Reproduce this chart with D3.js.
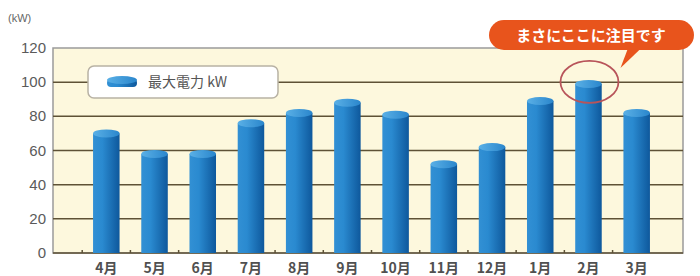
<!DOCTYPE html>
<html>
<head>
<meta charset="utf-8">
<script src="https://cdn.jsdelivr.net/npm/d3@7"></script>
<style>
  body { margin: 0; background: #fff; }
  svg { display: block; font-family: "Noto Sans CJK JP", "DejaVu Sans", sans-serif; }
</style>
</head>
<body>
<svg width="700" height="276"></svg>
<script>
months = ["4月","5月","6月","7月","8月","9月","10月","11月","12月","1月","2月","3月"];
peakKw = [70, 58, 58, 76, 82, 88, 81, 52, 62, 89, 99, 82];
yTicks = [0, 20, 40, 60, 80, 100, 120];
legendLabel = "最大電力 kW";
calloutText = "まさにここに注目です";
highlight = "2月";

width = 700;
height = 276;
plot = {left: 53, right: 683, top: 48, bottom: 253};

svg = d3.select("svg");

x = d3.scaleBand()
    .domain(months)
    .range([81, 662])
    .paddingInner(0.45)
    .paddingOuter(0.25);

y = d3.scaleLinear()
    .domain([0, 120])
    .range([plot.bottom, plot.top]);

defs = svg.append("defs");
grad = defs.append("linearGradient").attr("id", "barGrad");
grad.append("stop").attr("offset", "0%").attr("stop-color", "#3290d4");
grad.append("stop").attr("offset", "35%").attr("stop-color", "#2a8ad0");
grad.append("stop").attr("offset", "100%").attr("stop-color", "#0e589c");
topGrad = defs.append("linearGradient").attr("id", "topGrad");
topGrad.append("stop").attr("offset", "0%").attr("stop-color", "#5ab0e6");
topGrad.append("stop").attr("offset", "100%").attr("stop-color", "#2a86cc");

// plot background
svg.append("rect")
    .attr("x", plot.left).attr("y", plot.top)
    .attr("width", plot.right - plot.left).attr("height", plot.bottom - plot.top)
    .attr("fill", "#fdf8dd")
    .attr("stroke", "#9a9a9a").attr("stroke-width", 1.5);

// grid
svg.append("g")
  .selectAll("line")
  .data(yTicks.filter(d => d > 0 && d < 120))
  .join("line")
    .attr("x1", plot.left).attr("x2", plot.right)
    .attr("y1", d => y(d)).attr("y2", d => y(d))
    .attr("stroke", "#5e5236").attr("stroke-width", 1.5);

// y axis labels
svg.append("g")
    .style("font-family", "Liberation Sans, Arial, sans-serif")
    .style("font-size", "15px")
    .attr("fill", "#5a5a5a")
    .attr("text-anchor", "end")
  .selectAll("text")
  .data(yTicks)
  .join("text")
    .attr("x", 46)
    .attr("y", d => y(d) + 5)
    .text(d => d);

svg.append("text")
    .attr("x", 8).attr("y", 22)
    .style("font-family", "Liberation Sans, Arial, sans-serif")
    .style("font-size", "11px")
    .attr("fill", "#666")
    .text("(kW)");

// baseline + ticks
svg.append("line")
    .attr("x1", plot.left).attr("x2", plot.right)
    .attr("y1", plot.bottom).attr("y2", plot.bottom)
    .attr("stroke", "#5e5236").attr("stroke-width", 1.5);

step = x.step();
svg.append("g")
  .selectAll("line")
  .data(months)
  .join("line")
    .attr("x1", d => x(d) - step * 0.225)
    .attr("x2", d => x(d) - step * 0.225)
    .attr("y1", plot.bottom - 3).attr("y2", plot.bottom)
    .attr("stroke", "#5e5236").attr("stroke-width", 1.5);

// legend
legend = svg.append("g");
legend.append("rect")
    .attr("x", 88).attr("y", 66).attr("width", 190).attr("height", 32).attr("rx", 6)
    .attr("fill", "#fff").attr("stroke", "#b8b2a4").attr("stroke-width", 1.5);
legend.append("rect")
    .attr("x", 107).attr("y", 79).attr("width", 30).attr("height", 8).attr("rx", 4)
    .attr("fill", "url(#barGrad)");
legend.append("ellipse")
    .attr("cx", 122).attr("cy", 80).attr("rx", 15).attr("ry", 4)
    .attr("fill", "url(#topGrad)");
legend.append("text")
    .attr("x", 148).attr("y", 87)
    .style("font-size", "14px")
    .attr("fill", "#555")
    .text(legendLabel);

// bars as cylinders
data = months.map((m, i) => ({month: m, value: peakKw[i]}));
ry = 4;
bars = svg.append("g").selectAll("g").data(data).join("g");
bars.append("path")
    .attr("d", d => {
      const x0 = x(d.month), w = x.bandwidth(), yt = y(d.value), yb = y(0);
      return `M${x0},${yt}L${x0},${yb}L${x0 + w},${yb}L${x0 + w},${yt}Z`;
    })
    .attr("fill", "url(#barGrad)");
bars.append("ellipse")
    .attr("cx", d => x(d.month) + x.bandwidth() / 2)
    .attr("cy", d => y(d.value))
    .attr("rx", x.bandwidth() / 2)
    .attr("ry", ry)
    .attr("fill", "url(#topGrad)");

// x labels
svg.append("g")
    .style("font-size", "14px")
    .style("font-weight", "bold")
    .attr("fill", "#505050")
    .attr("text-anchor", "middle")
  .selectAll("text")
  .data(months)
  .join("text")
    .attr("x", d => x(d) + x.bandwidth() / 2)
    .attr("y", 273)
    .text(d => d);

// highlight circle
hd = data.find(d => d.month === highlight);
hx = x(hd.month) + x.bandwidth() / 2;
hy = y(hd.value);
svg.append("ellipse")
    .attr("cx", hx + 1).attr("cy", hy - 2)
    .attr("rx", 29).attr("ry", 21)
    .attr("fill", "none")
    .attr("stroke", "#b8545a").attr("stroke-width", 1.8);

// callout
callout = svg.append("g");
callout.append("path")
    .attr("d", `M${hx + 32},${hy - 16}L${hx + 40},${47}L${hx + 54},${47}Z`)
    .attr("fill", "#e8541c");
callout.append("rect")
    .attr("x", 489).attr("y", 20).attr("width", 205).attr("height", 30).attr("rx", 15)
    .attr("fill", "#e8541c");
callout.append("text")
    .attr("x", 591).attr("y", 41)
    .attr("text-anchor", "middle")
    .style("font-size", "15px")
    .style("font-weight", "bold")
    .attr("fill", "#fff")
    .text(calloutText);
</script>
</body>
</html>
